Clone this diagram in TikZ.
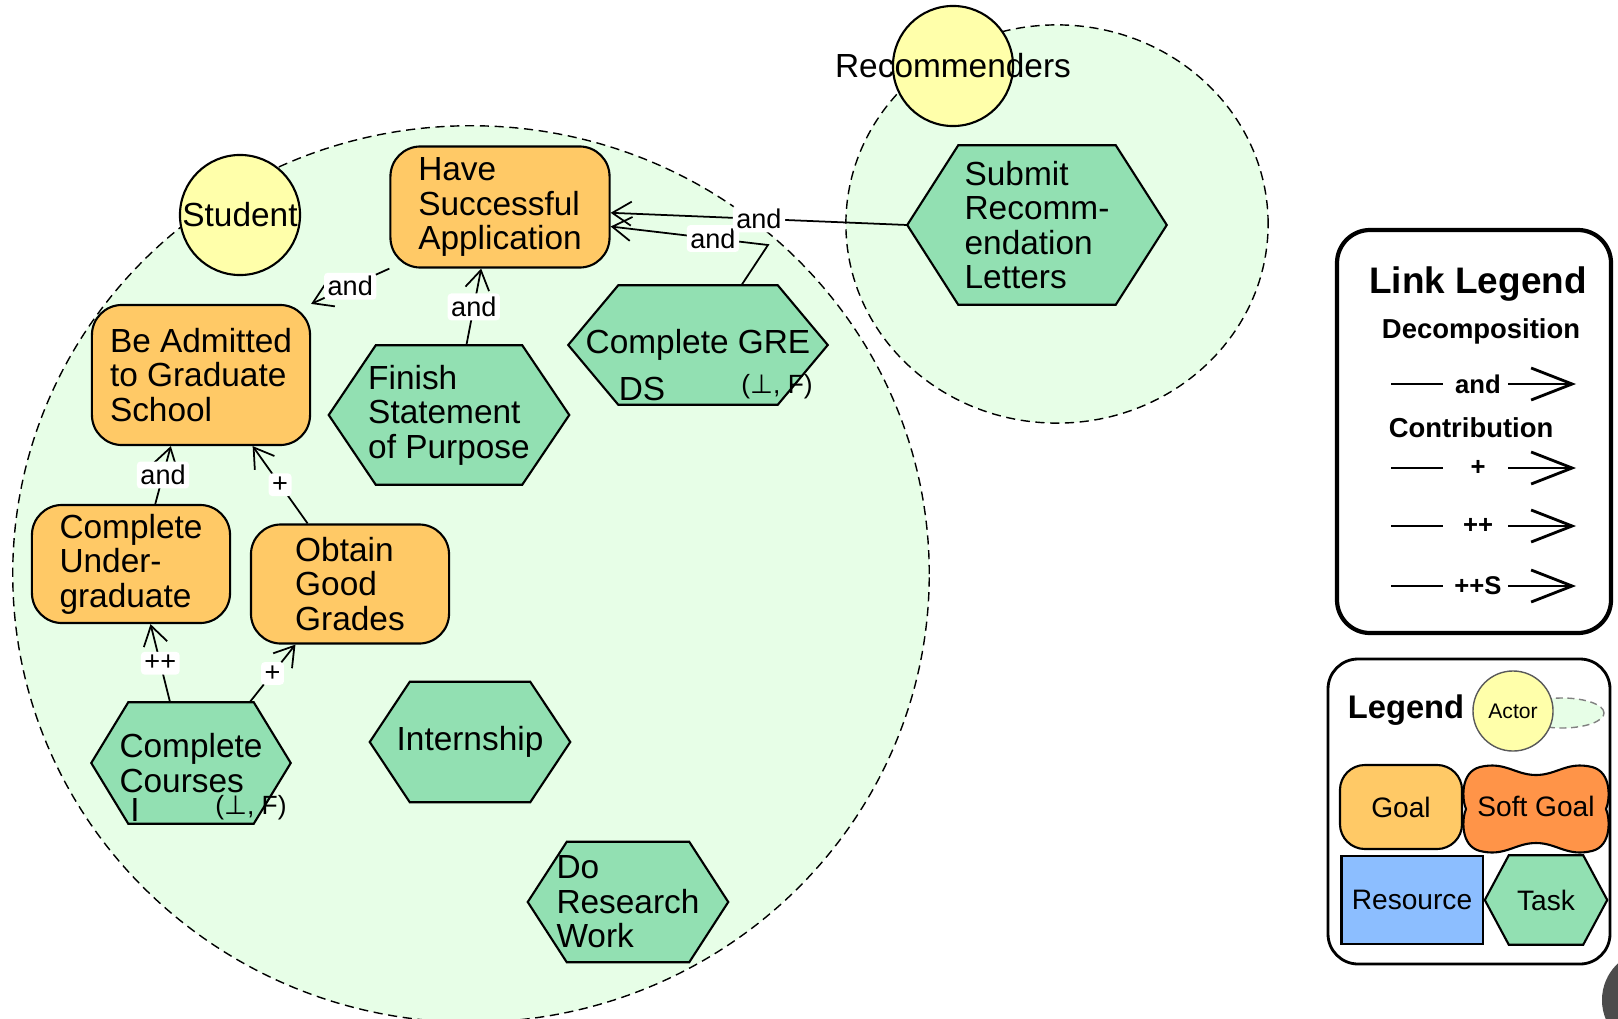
\documentclass[tikz,border=0pt]{standalone}
\usepackage{fontspec}
\setmainfont{Liberation Sans}
\newfontfamily\symfont{DejaVu Sans}
\usetikzlibrary{arrows.meta, positioning, backgrounds}

\definecolor{goalfill}{RGB}{255,201,102}
\definecolor{taskfill}{RGB}{146,224,178}
\definecolor{actorfill}{RGB}{255,255,170}
\definecolor{boundfill}{RGB}{231,254,231}
\definecolor{softfill}{RGB}{255,148,72}
\definecolor{resfill}{RGB}{140,190,255}

\newcommand{\bigtxt}{\fontsize{9.5}{9.8}\selectfont}
\newcommand{\smalltxt}{\fontsize{7.7}{8}\selectfont}
\newcommand{\perpsym}{{\symfont ⊥}}

\begin{document}
\begin{tikzpicture}[x=0.01cm, y=-0.01cm, >={Straight Barb[length=1.9mm, width=2.4mm]},
  boundary/.style={draw, line width=0.4pt, dash pattern=on 2.6pt off 1.6pt, fill=boundfill},
  actor/.style={draw, circle, fill=actorfill, minimum size=1.2cm, inner sep=0pt, line width=0.6pt, font=\bigtxt},
  goal/.style={draw, fill=goalfill, rectangle, rounded corners=0.3cm, line width=0.6pt, align=left, inner sep=0pt, font=\bigtxt},
  task/.style={rectangle, align=left, inner sep=0pt, font=\bigtxt},
  hexline/.style={draw, fill=taskfill, line width=0.6pt},
  attr/.style={inner sep=0pt, font=\bigtxt},
  link/.style={->, line width=0.5pt},
  lbl/.style={fill=white, rounded corners=1pt, inner sep=1pt, font=\smalltxt},
  legtxt/.style={inner sep=0pt, font=\bfseries\fontsize{7.8}{9}\selectfont}]

  \useasboundingbox (0,0) rectangle (1618,1018);

  % actor boundaries
  \begin{scope}[on background layer]
    \path[boundary] (471,574) ellipse (4.58cm and 4.48cm);
    \path[boundary] (1057,224) ellipse (2.11cm and 1.99cm);
  \end{scope}

  % actors
  \node[actor] (student) at (240,215) {Student};
  \node[actor] (recs) at (953,66) {};
  \node[attr] (recslbl) at (recs.center) {Recommenders};

  % goals
  \node[goal, minimum width=2.19cm, minimum height=1.21cm] (have) at (500,207) {Have\\Successful\\Application};
  \node[goal, minimum width=2.18cm, minimum height=1.40cm] (admit) at (201,375) {Be Admitted\\to Graduate\\School};
  \node[goal, minimum width=1.98cm, minimum height=1.18cm] (cu) at (131,564) {Complete\\Under-\\graduate};
  \node[goal, minimum width=1.98cm, minimum height=1.19cm] (ogg) at (350,584) {Obtain\\Good\\Grades};

  % tasks
  \node[task, minimum width=2.39cm, minimum height=1.38cm] (fsp) at (449,415) {Finish\\Statement\\of Purpose};
  \node[task, minimum width=2.58cm, minimum height=1.18cm] (gre) at (698,345) {Complete GRE};
  \node[task, minimum width=2.58cm, minimum height=1.58cm] (submit) at (1037,225) {Submit\\Recomm-\\endation\\Letters};
  \node[task, minimum width=1.98cm, minimum height=1.20cm] (cc) at (191,763) {Complete\\Courses};
  \node[task, minimum width=1.99cm, minimum height=1.19cm] (intern) at (470,742) {Internship};
  \node[task, minimum width=1.99cm, minimum height=1.19cm] (research) at (628,902) {Do\\Research\\Work};

  \node[attr] (greds) at (642,389) {DS};
  \node[attr, font=\fontsize{7.5}{8}\selectfont] (greval) at (777,387) {(\perpsym, F)};
  \node[attr] (ccmark) at (135,810) {I};
  \node[attr, font=\fontsize{7.5}{8}\selectfont] (ccval) at (251,808) {(\perpsym, F)};

  % links
  \coordinate (grebend) at (768,245);
  \draw[link] (have.south west) -- node[lbl] {and} (admit.north east);
  \draw[link] (fsp.76) -- node[lbl] {and} (have.253);
  \draw[link] (gre.54) -- (grebend) -- node[lbl, pos=0.35] {and} (have.-10);
  \draw[link] (submit.west) -- node[lbl] {and} (have.-3);
  \draw[link] (cu.68) -- node[lbl] {and} (admit.247);
  \draw[link] (ogg.125) -- node[lbl] {+} (admit.306);
  \draw[link] (cc.109) -- node[lbl] {++} (cu.288);
  \draw[link] (cc.46) -- node[lbl] {+} (ogg.228);

  % link legend
  \draw[line width=1.2pt, rounded corners=0.33cm] (1337,230) rectangle (1611,633);
  \node[inner sep=0pt, font=\bfseries\fontsize{10.5}{12}\selectfont] (linkleg) at (1478,284) {Link Legend};
  \node[legtxt] (decomp) at (1481,331) {Decomposition};
  \node[legtxt] (contrib) at (1471,428) {Contribution};
  \foreach \y/\t [count=\i] in {384/and, 468/+, 526/++, 586/++S} {
    \node[legtxt, font=\bfseries\fontsize{7.3}{9}\selectfont] (row\i) at (1478,\y) {\t};
    \draw[line width=0.8pt] (1391,\y) -- (1443,\y);
    \draw[line width=0.8pt, -{Straight Barb[length=4.1mm, width=3.2mm]}] (1508,\y) -- (1576,\y);
  }

  % element legend
  \draw[line width=0.8pt, rounded corners=0.3cm] (1328,659) rectangle (1610,964);
  \node[inner sep=0pt, font=\bfseries\fontsize{9.3}{11}\selectfont] (legtitle) at (1406,710) {Legend};
  \draw[draw=gray, fill=boundfill, line width=0.4pt, dash pattern=on 2pt off 1.3pt] (1562,713) ellipse (0.42cm and 0.15cm);
  \node[actor, minimum size=0.8cm, draw=gray!70!black, line width=0.4pt, font=\fontsize{6}{7}\selectfont] (legactor) at (1513,711) {Actor};
  \node[goal, minimum width=1.22cm, minimum height=0.84cm, rounded corners=0.25cm, align=center, font=\fontsize{8}{9}\selectfont] (leggoal) at (1401,807) {Goal};
  \filldraw[fill=softfill, line width=0.6pt]
    (1480,767) .. controls (1505,761) and (1515,775) .. (1536,775)
    .. controls (1557,775) and (1567,761) .. (1592,767)
    .. controls (1612,772) and (1610,800) .. (1606,809)
    .. controls (1610,818) and (1612,846) .. (1592,851)
    .. controls (1567,857) and (1557,843) .. (1536,843)
    .. controls (1515,843) and (1505,857) .. (1480,851)
    .. controls (1460,846) and (1462,818) .. (1466,809)
    .. controls (1462,800) and (1460,772) .. (1480,767) -- cycle;
  \node[inner sep=0pt, font=\fontsize{8}{9}\selectfont] (legsoft) at (1536,806) {Soft Goal};
  \node[draw, fill=resfill, line width=0.6pt, minimum width=1.41cm, minimum height=0.88cm, inner sep=0pt, font=\fontsize{8}{9}\selectfont] (legres) at (1412,900) {Resource};
  \node[task, minimum width=1.21cm, minimum height=0.88cm, font=\fontsize{8}{9}\selectfont] (legtask) at (1546,900) {Task};

  % task hexagons
  \begin{scope}[on background layer]
    \foreach \t/\d in {fsp/0.47, gre/0.5, submit/0.51, cc/0.37, intern/0.4, research/0.39, legtask/0.24}
      \draw[hexline] ([xshift=\d cm]\t.north west) -- ([xshift=-\d cm]\t.north east) -- (\t.east)
        -- ([xshift=-\d cm]\t.south east) -- ([xshift=\d cm]\t.south west) -- (\t.west) -- cycle;
  \end{scope}

  \fill[gray!60!black] (1652,1000) circle (0.5cm);
\end{tikzpicture}
\end{document}
